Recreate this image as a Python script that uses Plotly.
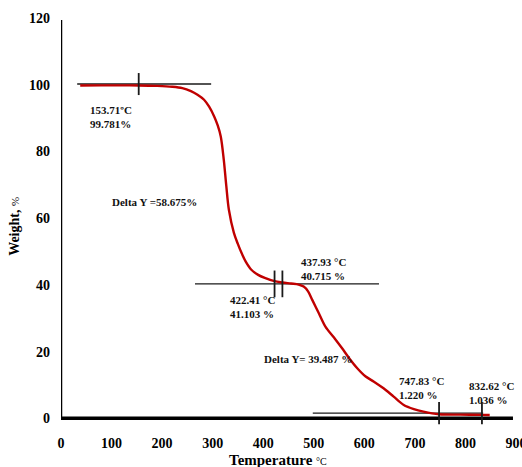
import plotly.graph_objects as go

# TGA curve: temperature (°C) vs remaining weight (%)
temperature = [38, 80, 120, 153.71, 190, 220, 240, 257, 270, 283, 293, 303, 310, 316,
               322, 327, 332, 342, 350, 357, 366, 376, 390, 403, 422.41, 437.93, 455,
               470, 480, 489, 497, 510, 523, 540, 556, 570, 586, 602, 619, 638, 658,
               678, 698, 717, 747.83, 790, 832.62, 848]
weight = [99.75, 99.8, 99.8, 99.781, 99.65, 99.4, 99.0, 98.1, 97.0, 95.5, 93.4, 90.5,
          87.8, 84.5, 77.5, 69.6, 62.6, 55.6, 52.2, 49.6, 46.8, 44.6, 43.0, 42.1,
          41.103, 40.715, 40.4, 40.1, 39.5, 38.0, 35.5, 31.5, 27.5, 24.2, 21.0, 18.0,
          15.0, 12.6, 11.0, 9.0, 6.5, 4.0, 2.75, 2.0, 1.22, 1.1, 1.036, 1.0]

# onset / endset analysis points
onset_T = [153.71, 422.41, 437.93, 747.83, 832.62]
onset_W = [99.781, 41.103, 40.715, 1.220, 1.036]

# baselines of the three plateaus: (T start, T end, level)
base_start = [32, 265, 498]
base_end = [297, 629, 835]
base_level = [100.2, 40.3, 1.55]
# half-height of the cross marks on each baseline
mark_half = [3.3, 4.0, 3.35]
mark_group = [0, 1, 1, 2, 2]

x_ticks = [0, 100, 200, 300, 400, 500, 600, 700, 800, 900]
y_ticks = [0, 20, 40, 60, 80, 100, 120]

delta_text = ["Delta Y =58.675%", "Delta Y= 39.487 %"]
delta_pos = [(97, 64.9), (397.5, 17.8)]
label_pos = [(53.4, 90.3), (330.3, 33.4), (470.7, 44.8), (664.6, 9.1), (803, 7.5)]

SERIF = "Liberation Serif"

fig = go.Figure()

# plateau baselines
for s, e, lv in zip(base_start, base_end, base_level):
    fig.add_trace(go.Scatter(x=[s, e], y=[lv, lv], mode="lines",
                             line=dict(color="#1a1a1a", width=1.4),
                             hoverinfo="skip", showlegend=False))

# weight-loss curve
fig.add_trace(go.Scatter(x=temperature, y=weight, mode="lines",
                         line=dict(color="#C00000", width=2.4, shape="spline", smoothing=0.9),
                         hoverinfo="skip", showlegend=False))

# cross marks at the analysis temperatures
for t, g in zip(onset_T, mark_group):
    lv, h = base_level[g], mark_half[g]
    fig.add_trace(go.Scatter(x=[t, t], y=[lv - h, lv + h], mode="lines",
                             line=dict(color="#1a1a1a", width=1.8),
                             hoverinfo="skip", showlegend=False))

annotations = []
for i, (t, w) in enumerate(zip(onset_T, onset_W)):
    deg = "ºC" if i == 0 else " °C"
    sep = "" if i == 0 else " "
    txt = f"{t:.2f}{deg}<br>{w:.3f}{sep}%"
    px, py = label_pos[i]
    annotations.append(dict(x=px, y=py, xref="x", yref="y", text=f"<b>{txt}</b>",
                            showarrow=False, xanchor="left", yanchor="middle", align="left",
                            font=dict(family=SERIF, size=11, color="#111")))
for txt, (px, py) in zip(delta_text, delta_pos):
    annotations.append(dict(x=px, y=py, xref="x", yref="y", text=f"<b>{txt}</b>",
                            showarrow=False, xanchor="left", yanchor="middle",
                            font=dict(family=SERIF, size=11, color="#111")))

# axis titles
annotations.append(dict(x=-0.101, y=0.487, xref="paper", yref="paper",
                        text="<b>Weight, </b><span style='font-size:11px'>%</span>",
                        textangle=-90, showarrow=False, xanchor="center", yanchor="middle",
                        font=dict(family=SERIF, size=14, color="#000")))
annotations.append(dict(x=0.478, y=-0.085, xref="paper", yref="paper",
                        text="<b>Temperature</b> <span style='font-size:10px'>°C</span>",
                        showarrow=False, xanchor="center", yanchor="middle",
                        font=dict(family=SERIF, size=15, color="#000")))

fig.update_layout(
    width=522, height=467,
    margin=dict(l=61, r=6, t=18, b=42),
    paper_bgcolor="white", plot_bgcolor="white",
    showlegend=False,
    annotations=annotations,
    xaxis=dict(range=[0, 900], tickvals=x_ticks, showgrid=False, zeroline=False,
               showline=False, ticks="", ticklabelstandoff=8, ticklabeloverflow="allow",
               automargin=False,
               tickfont=dict(family=SERIF, size=14, color="#000", weight="bold")),
    yaxis=dict(range=[-2, 120], tickvals=y_ticks, showgrid=False, zeroline=False,
               showline=False, ticks="", ticklabelstandoff=10, automargin=False,
               tickfont=dict(family=SERIF, size=14, color="#000", weight="bold")),
    shapes=[
        # axis lines
        dict(type="line", xref="x", yref="y", x0=0, x1=894, y0=0, y1=0,
             line=dict(color="#000", width=3.5), layer="below"),
        dict(type="line", xref="x", yref="y", x0=0, x1=0, y0=0, y1=119.4,
             line=dict(color="#000", width=2.5), layer="above"),
    ],
)

fig.write_html("out.html", config={"displayModeBar": False})
